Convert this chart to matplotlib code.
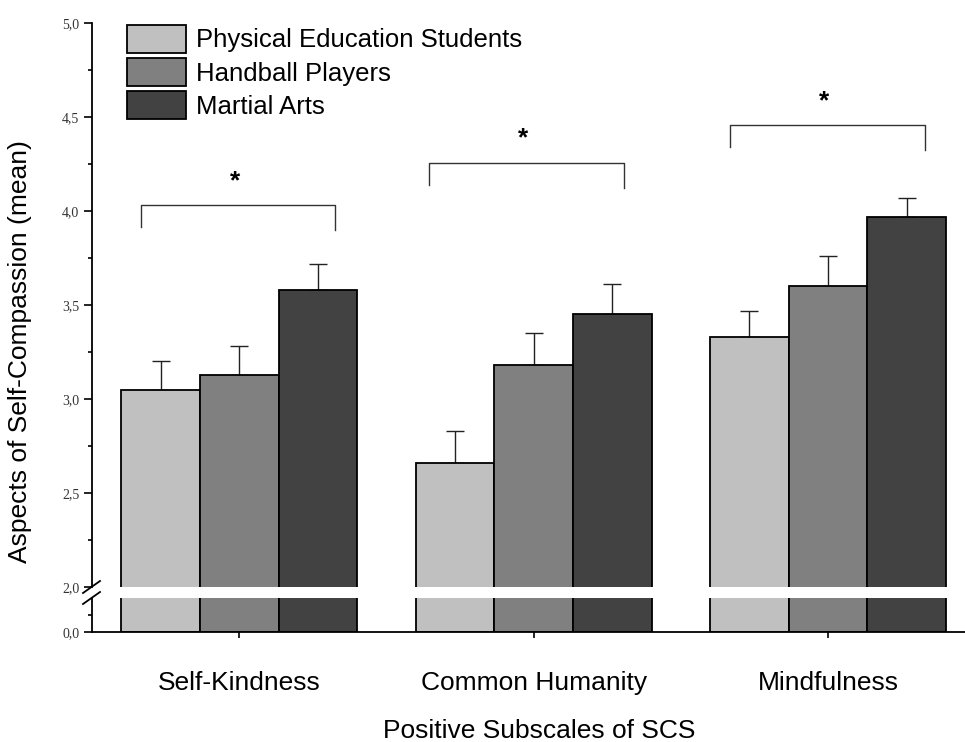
import numpy as np
import matplotlib.pyplot as plt
from matplotlib.lines import Line2D
from matplotlib.ticker import MultipleLocator, FixedLocator

# ---------------------------------------------------------------------------
# Data: mean scores and upper error (SE) for each group and subscale
# ---------------------------------------------------------------------------

subscales = ["Self-Kindness", "Common Humanity", "Mindfulness"]
groups = ["Physical Education Students", "Handball Players", "Martial Arts"]

pe_means = [3.05, 2.66, 3.33]
hb_means = [3.13, 3.18, 3.60]
ma_means = [3.58, 3.45, 3.97]

pe_err = [0.15, 0.17, 0.14]
hb_err = [0.15, 0.17, 0.16]
ma_err = [0.14, 0.16, 0.10]

# significance brackets: height of the line and horizontal shift
bracket_levels = [4.03, 4.255, 4.455]
bracket_shift = [-0.003, -0.024, -0.002]

colors = ["#c0c0c0", "#808080", "#424242"]

# ---------------------------------------------------------------------------
# Figure with broken y axis (upper panel 2.0-5.0, lower panel near 0)
# ---------------------------------------------------------------------------

plt.rcParams["font.family"] = ["Liberation Sans", "DejaVu Sans"]

W, H = 965, 742
fig = plt.figure(figsize=(W / 100, H / 100), dpi=100)

left = 92 / W
width = 1 - left
ax_top = fig.add_axes([left, 1 - 587 / H, width, (587 - 23) / H])
ax_bot = fig.add_axes([left, 1 - 632 / H, width, (632 - 598) / H])

x = np.arange(len(subscales))
bw = 0.267
means = [pe_means, hb_means, ma_means]
errs = [pe_err, hb_err, ma_err]

for ax in (ax_top, ax_bot):
    for i, (m, e) in enumerate(zip(means, errs)):
        xi = x + (i - 1) * bw
        ax.bar(xi, m, width=bw, color=colors[i], edgecolor="black",
               linewidth=1.3, label=groups[i], zorder=2)
        ax.errorbar(xi, m, yerr=[np.zeros(len(e)), e], fmt="none",
                    ecolor="#222222", elinewidth=1.0, capsize=6.5,
                    capthick=1.0, zorder=1)
    ax.set_xlim(-0.5, 2.465)
    ax.spines["right"].set_visible(False)
    ax.spines["top"].set_visible(False)
    for sp in ax.spines.values():
        sp.set_linewidth(1.3)

# upper panel
ax_top.set_ylim(2.0, 5.0)
ax_top.spines["bottom"].set_visible(False)
ax_top.yaxis.set_major_locator(MultipleLocator(0.5))
ax_top.yaxis.set_minor_locator(MultipleLocator(0.25))
ax_top.set_xticks([])
ax_top.set_yticklabels([f"{v:.1f}".replace(".", ",")
                        for v in ax_top.get_yticks()])

# lower panel
ax_bot.set_ylim(0, 1.95)
ax_bot.set_yticks([0])
ax_bot.set_yticklabels(["0,0"])
ax_bot.yaxis.set_minor_locator(FixedLocator([1.0]))
ax_bot.set_xticks(x)
ax_bot.set_xticklabels(subscales, fontsize=19)
ax_bot.tick_params(axis="x", direction="out", length=4, width=1.2, pad=24)

for ax in (ax_top, ax_bot):
    ax.tick_params(axis="y", which="major", direction="out", length=6,
                   width=1.2, pad=3, labelsize=10)
    ax.tick_params(axis="y", which="minor", direction="out", length=3,
                   width=1.2)
    for lab in ax.get_yticklabels():
        lab.set_family(["Liberation Serif", "DejaVu Serif"])
        lab.set_color("#333333")

# break marks on the y axis
for yy in (587, 598):
    fig.add_artist(Line2D([83 / W, 100 / W],
                          [1 - (yy + 6) / H, 1 - (yy - 6) / H],
                          color="black", linewidth=1.3))

# significance brackets with stars
for xc, lvl, sh in zip(x, bracket_levels, bracket_shift):
    xm = xc + sh
    xl, xr = xm - 0.33, xm + 0.33
    ax_top.plot([xl, xl, xr, xr], [lvl - 0.115, lvl, lvl, lvl - 0.13],
                color="#333333", linewidth=1.0)
    ax_top.text(xm - 0.012, lvl + 0.13, "*", ha="center", va="center",
                fontsize=19, fontweight="bold")

# legend
ax_top.legend(loc="upper left", bbox_to_anchor=(127 / W, 1 - 25 / H),
              bbox_transform=fig.transFigure, frameon=False, fontsize=18.5,
              handlelength=2.3, handleheight=1.27, handletextpad=0.4,
              labelspacing=0.22, borderpad=0, borderaxespad=0)

# axis titles
fig.text(20 / W, 1 - 352 / H, "Aspects of Self-Compassion (mean)",
         rotation=90, ha="center", va="center", fontsize=19)
fig.text(539 / W, 1 - 738 / H, "Positive Subscales of SCS",
         ha="center", va="baseline", fontsize=19)

fig.savefig("out.png", dpi=100)
